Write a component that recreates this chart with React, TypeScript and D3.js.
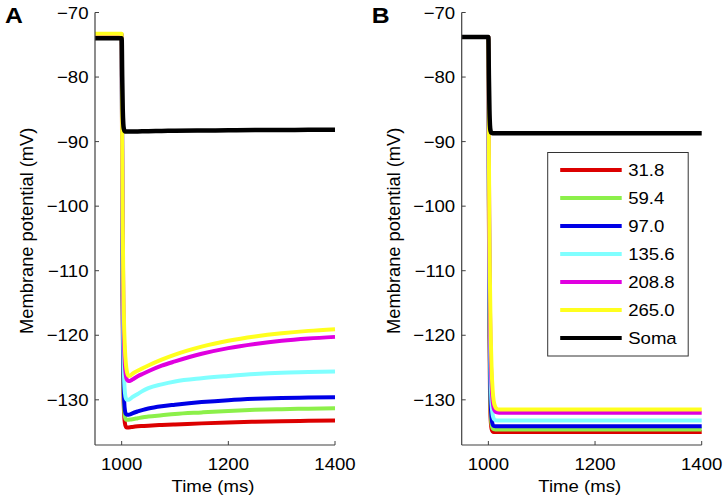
import React from 'react';
import * as d3 from 'd3';

// ---------- data ----------
const legendLabels = ['31.8', '59.4', '97.0', '135.6', '208.8', '265.0', 'Soma'];
const lineColors = ['#dc0000', '#8cf04a', '#0000e6', '#80ffff', '#e000e0', '#ffff1e', '#000000'];

const xTicks = [1000, 1200, 1400];
const yTicks = [-70, -80, -90, -100, -110, -120, -130];

const timeA = [950, 1000, 1001, 1002, 1003, 1004, 1006, 1008, 1010, 1013, 1016, 1020, 1030, 1040, 1050, 1075, 1100, 1150, 1200, 1250, 1300, 1350, 1400];
const a_31_8 = [-73.5, -73.5, -100, -118, -127, -131, -133.6, -134.2, -134.3, -134.28, -134.25, -134.2, -134.1, -134.05, -134.0, -133.9, -133.82, -133.65, -133.5, -133.4, -133.32, -133.25, -133.2];
const a_59_4 = [-73.5, -73.5, -98, -116, -126, -130, -132.6, -133.05, -133.1, -133.08, -133.05, -133.0, -132.85, -132.7, -132.6, -132.4, -132.2, -131.95, -131.72, -131.55, -131.45, -131.37, -131.3];
const a_97_0 = [-73.5, -73.5, -96, -114, -124, -128.5, -131.6, -132.2, -132.3, -132.3, -132.25, -132.1, -131.8, -131.55, -131.35, -131.0, -130.76, -130.35, -130.05, -129.85, -129.72, -129.65, -129.6];
const a_135_6 = [-73.5, -73.5, -94, -110, -120, -125, -128.8, -129.8, -130.0, -130.0, -129.85, -129.6, -129.1, -128.6, -128.2, -127.6, -127.15, -126.65, -126.3, -126.0, -125.8, -125.7, -125.6];
const a_208_8 = [-73.5, -73.5, -91, -105, -114, -119.5, -124.5, -126.3, -126.9, -127.1, -127.05, -126.87, -126.36, -125.96, -125.58, -124.72, -124.05, -122.87, -121.99, -121.35, -120.85, -120.5, -120.25];
const a_265_0 = [-73.3, -73.3, -90, -103, -111, -116.5, -122, -124.5, -125.7, -126.3, -126.25, -125.97, -125.5, -125.08, -124.68, -123.78, -123.0, -121.77, -120.86, -120.19, -119.69, -119.32, -119.05];
const a_soma = [-74, -74, -80, -85, -87.2, -88.0, -88.4, -88.45, -88.45, -88.45, -88.44, -88.43, -88.42, -88.4, -88.38, -88.35, -88.32, -88.28, -88.25, -88.22, -88.2, -88.18, -88.15];

const timeB = [950, 1000, 1001, 1002, 1003, 1004, 1006, 1008, 1010, 1013, 1016, 1020, 1030, 1100, 1200, 1300, 1400];
const b_31_8 = [-73.8, -73.8, -102, -119, -128.5, -132.5, -134.5, -134.9, -135.0, -135.0, -135.0, -135.0, -135.0, -135.0, -135.0, -135.0, -135.0];
const b_59_4 = [-73.8, -73.8, -100, -117, -126.5, -131, -133.8, -134.4, -134.55, -134.6, -134.6, -134.6, -134.6, -134.6, -134.6, -134.6, -134.6];
const b_97_0 = [-73.8, -73.8, -98, -114, -124, -129, -132.8, -133.8, -134.05, -134.1, -134.1, -134.1, -134.1, -134.1, -134.1, -134.1, -134.1];
const b_135_6 = [-73.8, -73.8, -96, -111, -120, -125.5, -130.5, -132.3, -132.9, -133.15, -133.2, -133.2, -133.2, -133.2, -133.2, -133.2, -133.2];
const b_208_8 = [-73.8, -73.8, -94, -107, -116, -121.5, -127.5, -130.2, -131.3, -131.8, -131.95, -132.0, -132.0, -132.0, -132.0, -132.0, -132.0];
const b_265_0 = [-73.8, -73.8, -92, -104, -112, -118, -125, -128.5, -130.2, -131.1, -131.4, -131.5, -131.5, -131.5, -131.5, -131.5, -131.5];
const b_soma = [-73.8, -73.8, -80, -85, -87.5, -88.3, -88.65, -88.7, -88.7, -88.7, -88.7, -88.7, -88.7, -88.7, -88.7, -88.72, -88.72];

const panelAValues = [a_31_8, a_59_4, a_97_0, a_135_6, a_208_8, a_265_0, a_soma];
const panelBValues = [b_31_8, b_59_4, b_97_0, b_135_6, b_208_8, b_265_0, b_soma];

// ---------- layout ----------
const W = 727;
const H = 501;
const FONT = "'Liberation Sans', Arial, Helvetica, sans-serif";
const TOP = 12.5;
const BOTTOM = 445;
const PLOT_W = 240;
const FS = 17.2;
const SX = 1.08;

const yScale = d3.scaleLinear().domain([-137, -70]).range([BOTTOM, TOP]);

function Txt({ x, y, anchor, children, size = FS, sx = SX, weight = 'normal' }: any) {
  return (
    <text
      transform={`translate(${x},${y}) scale(${sx},1)`}
      textAnchor={anchor || 'start'}
      fontSize={size}
      fontWeight={weight}
      fontFamily={FONT}
      fill="#000"
    >
      {children}
    </text>
  );
}

function Panel({ left, letter, times, values, legend }: { left: number; letter: string; times: number[]; values: number[][]; legend: boolean }) {
  const x = d3.scaleLinear().domain([950, 1400]).range([left, left + PLOT_W]);
  const axisColor = '#404040';
  const line = d3
    .line<number>()
    .x((_, i) => x(times[i]))
    .y((v) => yScale(v))
    .curve(d3.curveMonotoneX);
  const lx0 = left + 86;
  const ly0 = 152.5;
  return (
    <g>
      {values.map((vals, i) => (
        <path
          key={i}
          d={line(vals) || ''}
          fill="none"
          stroke={lineColors[i]}
          strokeWidth={i === 6 ? 4.5 : 4}
          strokeLinejoin="round"
        />
      ))}
      {/* axes */}
      <line x1={left} x2={left} y1={TOP} y2={BOTTOM} stroke={axisColor} strokeWidth={1.2} />
      <line x1={left} x2={left + PLOT_W} y1={BOTTOM} y2={BOTTOM} stroke={axisColor} strokeWidth={1.2} />
      {yTicks.map((t) => (
        <g key={t}>
          <line x1={left} x2={left + 4} y1={yScale(t)} y2={yScale(t)} stroke={axisColor} strokeWidth={1} />
          <Txt x={left - 6.5} y={yScale(t) + 6.2} anchor="end">
            {t < 0 ? '\u2212' + Math.abs(t) : String(t)}
          </Txt>
        </g>
      ))}
      {xTicks.map((t) => (
        <g key={t}>
          <line x1={x(t)} x2={x(t)} y1={BOTTOM} y2={BOTTOM - 4} stroke={axisColor} strokeWidth={1} />
          <Txt x={x(t)} y={470} anchor="middle">
            {t}
          </Txt>
        </g>
      ))}
      <Txt x={left + PLOT_W / 2 - 2} y={491.5} anchor="middle">
        Time (ms)
      </Txt>
      <text
        transform={`translate(${left - 62},${(TOP + BOTTOM) / 2 + 2}) rotate(-90)`}
        textAnchor="middle"
        fontSize={18.3}
        fontFamily={FONT}
        fill="#000"
      >
        Membrane potential (mV)
      </text>
      <Txt x={left - 90} y={23} size={21.5} sx={1.15} weight="bold">
        {letter}
      </Txt>
      {legend && (
        <g>
          <rect x={lx0} y={ly0} width={140.5} height={203.5} fill="#fff" stroke="#333" strokeWidth={1} />
          {legendLabels.map((lab, i) => {
            const yy = 170 + i * 28;
            return (
              <g key={lab}>
                <line x1={lx0 + 12.5} x2={lx0 + 74} y1={yy} y2={yy} stroke={lineColors[i]} strokeWidth={4} />
                <Txt x={lx0 + 80.5} y={yy + 6.2}>
                  {lab}
                </Txt>
              </g>
            );
          })}
        </g>
      )}
    </g>
  );
}

export default function App() {
  return (
    <svg width={W} height={H} style={{ position: 'absolute', left: 0, top: 0, background: '#fff' }}>
      <rect x={0} y={0} width={W} height={H} fill="#fff" />
      <Panel left={95} letter="A" times={timeA} values={panelAValues} legend={false} />
      <Panel left={461.7} letter="B" times={timeB} values={panelBValues} legend={true} />
    </svg>
  );
}
